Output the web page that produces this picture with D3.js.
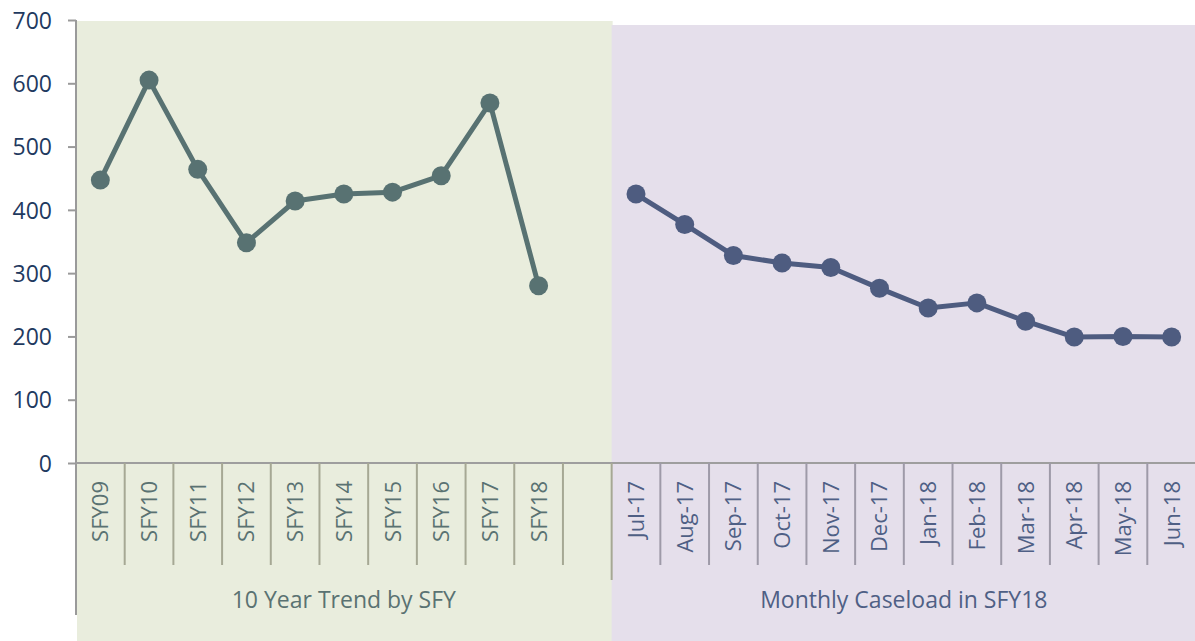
<!DOCTYPE html>
<html>
<head>
    <script src="https://d3js.org/d3.v7.min.js"></script>
    <style>
        body { margin: 0; background: #fff; }
        text { font-family: 'Open Sans', sans-serif; }
    </style>
</head>
<body>
<svg width="1195" height="641"></svg>
<script>
    // data
    const yearCats = ["SFY09", "SFY10", "SFY11", "SFY12", "SFY13", "SFY14", "SFY15", "SFY16", "SFY17", "SFY18"];
    const yearValues = [447, 605, 464, 348, 414, 425, 428, 454, 569, 280];
    const monthCats = ["Jul-17", "Aug-17", "Sep-17", "Oct-17", "Nov-17", "Dec-17", "Jan-18", "Feb-18", "Mar-18", "Apr-18", "May-18", "Jun-18"];
    const monthValues = [425, 377, 328, 316, 309, 276, 245, 253, 224, 199, 200, 199];
    const groupLabels = ["10 Year Trend by SFY", "Monthly Caseload in SFY18"];
    const yTicks = [0, 100, 200, 300, 400, 500, 600, 700];

    const gap = "_gap";
    const allCats = yearCats.concat([gap], monthCats);

    const svg = d3.select("svg");
    const plotLeft = 76, plotRight = 1196, plotTop = 20, plotBottom = 463;

    const x = d3.scaleBand().domain(allCats).range([plotLeft, plotRight]).padding(0);
    const y = d3.scaleLinear().domain([0, 700]).range([plotBottom, plotTop]);

    // background panels
    svg.append("rect")
        .attr("x", x(yearCats[0]) + 1)
        .attr("y", plotTop + 1)
        .attr("width", x(monthCats[0]) - x(yearCats[0]))
        .attr("height", 641 - plotTop)
        .attr("fill", "#e9eddd");
    svg.append("rect")
        .attr("x", x(monthCats[0]))
        .attr("y", 25)
        .attr("width", 1195 - x(monthCats[0]))
        .attr("height", 641 - 25)
        .attr("fill", "#e5dfeb");

    // y axis
    const yAxis = svg.append("g")
        .attr("transform", `translate(${plotLeft},0)`)
        .call(d3.axisLeft(y).tickValues(yTicks).tickSize(8).tickPadding(16));
    yAxis.select(".domain").remove();
    yAxis.selectAll(".tick line").attr("stroke", "#9a9a9a").attr("stroke-width", 2);
    yAxis.selectAll(".tick text")
        .attr("fill", "#1f3a5f")
        .attr("dy", "0.36em")
        .style("font-size", "23px");
    svg.append("line")
        .attr("x1", plotLeft).attr("x2", plotLeft)
        .attr("y1", plotTop).attr("y2", 615)
        .attr("stroke", "#9a9a9a").attr("stroke-width", 2);

    // x axis line
    svg.append("line")
        .attr("x1", plotLeft).attr("x2", plotRight)
        .attr("y1", plotBottom).attr("y2", plotBottom)
        .attr("stroke", "#9e9e9e").attr("stroke-width", 2);

    // category separators
    allCats.forEach((c, i) => {
        if (i === 0) return;
        const isGroupEdge = c === monthCats[0];
        svg.append("line")
            .attr("x1", x(c)).attr("x2", x(c))
            .attr("y1", plotBottom).attr("y2", isGroupEdge ? 580 : 565)
            .attr("stroke", i <= yearCats.length + 1 ? "#a6a894" : "#9e9aa8")
            .attr("stroke-width", 2);
    });

    // category labels
    function catLabels(cats, color) {
        svg.selectAll(null)
            .data(cats)
            .enter().append("text")
            .attr("transform", d => `translate(${x(d) + x.bandwidth() / 2 + 8},481) rotate(-90)`)
            .attr("text-anchor", "end")
            .attr("fill", color)
            .style("font-size", "22px")
            .text(d => d);
    }
    catLabels(yearCats, "#5a7272");
    catLabels(monthCats, "#4f5f85");

    // group labels
    svg.append("text")
        .attr("x", (x(yearCats[0]) + x(gap) + x.bandwidth()) / 2)
        .attr("y", 608)
        .attr("text-anchor", "middle")
        .attr("fill", "#5a7272")
        .style("font-size", "23px")
        .text(groupLabels[0]);
    svg.append("text")
        .attr("x", (x(monthCats[0]) + plotRight) / 2)
        .attr("y", 608)
        .attr("text-anchor", "middle")
        .attr("fill", "#4f5f85")
        .style("font-size", "23px")
        .text(groupLabels[1]);

    // series
    function series(cats, vals, color) {
        const pts = cats.map((c, i) => [x(c) + x.bandwidth() / 2, y(vals[i])]);
        svg.append("path")
            .attr("d", d3.line()(pts))
            .attr("fill", "none")
            .attr("stroke", color)
            .attr("stroke-width", 5)
            .attr("stroke-linejoin", "round");
        svg.selectAll(null)
            .data(pts)
            .enter().append("circle")
            .attr("cx", d => d[0])
            .attr("cy", d => d[1])
            .attr("r", 9.5)
            .attr("fill", color);
    }
    series(yearCats, yearValues, "#587272");
    series(monthCats, monthValues, "#4e5c80");
</script>
</body>
</html>
